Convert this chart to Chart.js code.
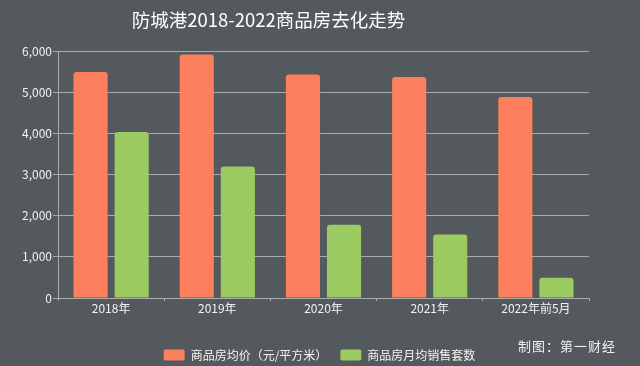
<!DOCTYPE html>
<html>
<head>
<meta charset="utf-8">
<script src="https://cdn.jsdelivr.net/npm/chart.js@4"></script>
<style>
  html, body { margin: 0; padding: 0; background: #54595d; }
  #wrap { position: relative; width: 640px; height: 366px; }
  #credit { position: absolute; left: 518px; top: 336px; color: #f0f0f0;
            font: 13px "Noto Sans CJK SC", sans-serif; letter-spacing: 1px; }
</style>
</head>
<body>
<div id="wrap">
  <canvas id="c" width="640" height="366"></canvas>
  <div id="credit">制图：第一财经</div>
</div>
<script>
// 防城港 商品房去化数据
const categories = ['2018年', '2019年', '2020年', '2021年', '2022年前5月'];
const avgPrice = [5490, 5915, 5430, 5370, 4885];      // 商品房均价（元/平方米）
const monthlySales = [4030, 3195, 1780, 1545, 490];   // 商品房月均销售套数
const yTicks = [0, 1000, 2000, 3000, 4000, 5000, 6000];

const cjk = '"Noto Sans CJK SC", sans-serif';
const gridCol = '#a9abad';

// 标题、图例位置微调（原图标题偏左、图例居中于整张图）
const shiftBoxes = {
  id: 'shiftBoxes',
  afterLayout(chart) {
    const t = chart.titleBlock, l = chart.legend;
    if (t) { t.left -= 30; t.right -= 30; }
    if (l) { l.left += 21; l.right += 21; l.top += 5; l.bottom += 5; }
  }
};

new Chart(document.getElementById('c'), {
  type: 'bar',
  data: {
    labels: categories,
    datasets: [
      { label: '商品房均价（元/平方米）', data: avgPrice, backgroundColor: '#fe7f5d', borderRadius: 3, borderSkipped: 'bottom' },
      { label: '商品房月均销售套数', data: monthlySales, backgroundColor: '#9bca61', borderRadius: 3, borderSkipped: 'bottom' }
    ]
  },
  options: {
    responsive: false,
    animation: false,
    categoryPercentage: 0.774,
    barPercentage: 0.83,
    layout: { padding: { left: 8, right: 51, top: 0, bottom: 0 } },
    scales: {
      x: {
        afterFit: axis => { axis.height = 33; },
        grid: { display: true, drawOnChartArea: false, color: gridCol, tickLength: 3 },
        border: { color: gridCol },
        ticks: { color: '#f2f2f2', font: { family: cjk, size: 12 }, padding: 0 }
      },
      y: {
        min: 0, max: 6000,
        afterBuildTicks: axis => { axis.ticks = yTicks.map(v => ({ value: v })); },
        afterFit: axis => { axis.width = 50; },
        grid: { color: gridCol, tickLength: 5 },
        border: { color: gridCol },
        ticks: {
          color: '#f2f2f2', font: { family: cjk, size: 12 }, padding: 1,
          callback: v => v.toLocaleString('en-US')
        }
      }
    },
    plugins: {
      title: {
        display: true, text: '防城港2018-2022商品房去化走势',
        color: '#ffffff', font: { family: cjk, size: 18.5, weight: 'normal' },
        padding: { top: 9, bottom: 19.8 }
      },
      legend: {
        position: 'bottom',
        labels: {
          color: '#f2f2f2', font: { family: cjk, size: 12 },
          boxWidth: 21, boxHeight: 11, padding: 13, useBorderRadius: true, borderRadius: 2
        }
      },
      tooltip: { enabled: false }
    }
  },
  plugins: [shiftBoxes]
});
</script>
</body>
</html>
